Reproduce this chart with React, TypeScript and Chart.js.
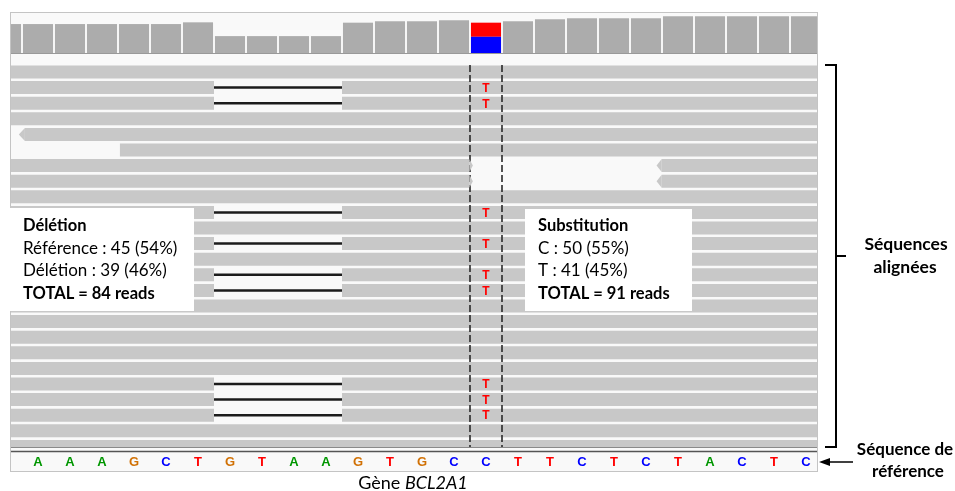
import React, { useEffect, useRef } from 'react';
import { Chart, registerables } from 'chart.js';

Chart.register(...registerables);

// ---------- data ----------
// genomic positions (base index; -1 is the partially visible base on the left)
const positions = [-1, 0, 1, 2, 3, 4, 5, 6, 7, 8, 9, 10, 11, 12, 13, 14, 15, 16, 17, 18, 19, 20, 21, 22, 23, 24];
// coverage (reads) matching the reference base; at the SNP this is the C count
const coverage = [87, 87, 87, 87, 87, 87, 92, 52, 52, 52, 52, 91, 95, 95, 98, 50, 95, 101, 104, 104, 104, 110, 110, 110, 110, 110];
const snpPosition = 14;
const snpAltCount = 41; // T reads
const snpAltBase = 'T';
// reference sequence (positions 0..24)
const refBases = ['A', 'A', 'A', 'G', 'C', 'T', 'G', 'T', 'A', 'A', 'G', 'T', 'G', 'C', 'C', 'T', 'T', 'C', 'T', 'C', 'T', 'A', 'C', 'T', 'C'];
// aligned reads
const readRows = [1, 2, 3, 4, 5, 6, 7, 8, 9, 10, 11, 12, 13, 14, 15, 16, 17, 18, 19, 20, 21, 22, 23, 24, 25];
const deletionRows = [2, 3, 10, 12, 14, 15, 21, 22, 23];
const snpReadRows = [2, 3, 10, 12, 14, 15, 21, 22, 23];
const deletionStart = 5.5;
const deletionEnd = 9.5;
const fullReadStart = -1.5;
const fullReadEnd = 25.5;
// reads that do not span the whole window: [row, start, end]
const partialReads: [number, number, number][] = [
  [5, -0.41, 25.5],
  [6, 2.56, 25.5],
  [7, -1.5, 13.48],
  [7, 19.49, 25.5],
  [8, -1.5, 13.48],
  [8, 19.49, 25.5],
];
// pointed read ends: [row, body end, tip]
const readTips: [number, number, number][] = [
  [5, -0.41, -0.6],
  [7, 13.48, 13.59],
  [8, 13.48, 13.59],
  [7, 19.49, 19.33],
  [8, 19.49, 19.33],
];
const deletionBox = ['Délétion', 'Référence : 45 (54%)', 'Délétion : 39 (46%)', 'TOTAL = 84 reads'];
const substitutionBox = ['Substitution', 'C : 50 (55%)', 'T : 41 (45%)', 'TOTAL = 91 reads'];

const baseColors: Record<string, string> = { A: '#009600', C: '#0000ff', G: '#d17105', T: '#ff0000' };

// ---------- helpers ----------
function buildReadSegments() {
  const pts: { x: number; y: number | null }[] = [];
  const push = (row: number, s: number, e: number) => {
    pts.push({ x: s, y: row }, { x: e, y: row }, { x: e, y: null });
  };
  const partialRowSet = new Set(partialReads.map((r) => r[0]));
  readRows.forEach((row) => {
    if (partialRowSet.has(row)) {
      partialReads.filter((r) => r[0] === row).forEach((r) => push(row, r[1], r[2]));
    } else if (deletionRows.includes(row)) {
      push(row, fullReadStart, deletionStart);
      push(row, deletionEnd, fullReadEnd);
    } else {
      push(row, fullReadStart, fullReadEnd);
    }
  });
  return pts;
}

function buildDeletionSegments() {
  const pts: { x: number; y: number | null }[] = [];
  deletionRows.forEach((row) => {
    pts.push({ x: deletionStart, y: row }, { x: deletionEnd, y: row }, { x: deletionEnd, y: null });
  });
  return pts;
}

const FONT = 'Lato, "Open Sans", sans-serif';

const igvPlugin = {
  id: 'igvDecor',
  beforeDraw(chart: any) {
    const { ctx, chartArea: a } = chart;
    ctx.save();
    ctx.fillStyle = '#ffffff';
    ctx.fillRect(0, 0, chart.width, chart.height);
    ctx.fillStyle = '#f9f9f9';
    ctx.fillRect(a.left, a.top, a.right - a.left, a.bottom - a.top);
    ctx.restore();
  },
  afterDatasetsDraw(chart: any) {
    const { ctx, chartArea: a } = chart;
    const xs = chart.scales.x;
    const yR = chart.scales.yReads;
    const yRef = chart.scales.yRef;
    ctx.save();

    // pointed read ends
    ctx.beginPath();
    ctx.rect(a.left, a.top, a.right - a.left, a.bottom - a.top);
    ctx.clip();
    ctx.fillStyle = '#c8c8c8';
    readTips.forEach(([row, body, tip]) => {
      const yc = yR.getPixelForValue(row);
      const xb = xs.getPixelForValue(body);
      const xt = xs.getPixelForValue(tip);
      ctx.beginPath();
      ctx.moveTo(xb, yc - 6.5);
      ctx.lineTo(xt, yc);
      ctx.lineTo(xb, yc + 6.5);
      ctx.closePath();
      ctx.fill();
    });

    // mismatched bases in reads
    ctx.fillStyle = baseColors[snpAltBase];
    ctx.font = 'bold 12px "Liberation Sans", Arial, sans-serif';
    ctx.textAlign = 'center';
    ctx.textBaseline = 'middle';
    snpReadRows.forEach((row) => {
      ctx.fillText(snpAltBase, xs.getPixelForValue(snpPosition), yR.getPixelForValue(row) + 1);
    });

    // reference sequence letters
    ctx.font = 'bold 13px "Liberation Sans", Arial, sans-serif';
    refBases.forEach((b, i) => {
      ctx.fillStyle = baseColors[b];
      ctx.fillText(b, xs.getPixelForValue(i), yRef.getPixelForValue(0.4) + 0.5);
    });
    ctx.restore();

    ctx.save();
    // panel border
    ctx.strokeStyle = '#c4c4c4';
    ctx.lineWidth = 1;
    ctx.strokeRect(a.left + 0.5, a.top + 0.5, a.right - a.left - 1, a.bottom - a.top - 1);

    // summary boxes
    ctx.fillStyle = '#ffffff';
    ctx.fillRect(a.left, 208, 184, 103);
    ctx.fillRect(525, 209, 167, 102);
    ctx.fillStyle = '#000000';
    ctx.textAlign = 'left';
    ctx.textBaseline = 'middle';
    const lineY = [226, 248.5, 271, 293.5];
    const boxFont = (i: number) => (i === 0 || i === 3 ? 'bold 16.5px ' : '17px ') + FONT;
    deletionBox.forEach((t, i) => {
      ctx.font = boxFont(i);
      ctx.fillText(t, 23, lineY[i]);
    });
    substitutionBox.forEach((t, i) => {
      ctx.font = boxFont(i);
      ctx.fillText(t, 538, lineY[i]);
    });

    // bracket for aligned reads
    const top = yR.getPixelForValue(0.55);
    const bottom = yR.getPixelForValue(25.04);
    const bx = a.right + 18;
    ctx.strokeStyle = '#000000';
    ctx.lineWidth = 2;
    ctx.beginPath();
    ctx.moveTo(bx - 11, top);
    ctx.lineTo(bx, top);
    ctx.lineTo(bx, bottom);
    ctx.lineTo(bx - 11, bottom);
    ctx.moveTo(bx, (top + bottom) / 2);
    ctx.lineTo(bx + 10, (top + bottom) / 2);
    ctx.stroke();

    // right labels
    ctx.textAlign = 'center';
    ctx.font = 'bold 17.5px ' + FONT;
    ctx.fillText('Séquences', 906, 244);
    ctx.fillText('alignées', 905, 267);
    ctx.font = 'bold 17px ' + FONT;
    ctx.fillText('Séquence de', 905, 450);
    ctx.fillText('référence', 908, 472);

    // arrow to the reference sequence
    const ay = yRef.getPixelForValue(0.4);
    ctx.lineWidth = 1.5;
    ctx.beginPath();
    ctx.moveTo(853, ay);
    ctx.lineTo(826, ay);
    ctx.stroke();
    ctx.beginPath();
    ctx.moveTo(819, ay);
    ctx.lineTo(830, ay - 4);
    ctx.lineTo(830, ay + 4);
    ctx.closePath();
    ctx.fill();

    // gene label
    ctx.textAlign = 'left';
    ctx.font = '18px ' + FONT;
    const w1 = ctx.measureText('Gène ').width;
    ctx.font = 'italic 18px ' + FONT;
    const w2 = ctx.measureText('BCL2A1').width;
    const gx = 413 - (w1 + w2) / 2;
    ctx.font = '18px ' + FONT;
    ctx.fillText('Gène ', gx, 483);
    ctx.font = 'italic 18px ' + FONT;
    ctx.fillText('BCL2A1', gx + w1, 483);
    ctx.restore();
  },
};

export default function App() {
  const ref = useRef<HTMLCanvasElement | null>(null);

  useEffect(() => {
    if (!ref.current) return;
    const chart = new Chart(ref.current, {
      type: 'bar',
      data: {
        datasets: [
          {
            type: 'bar',
            label: 'Couverture',
            data: positions.map((p, i) => ({ x: p, y: coverage[i] })),
            backgroundColor: positions.map((p) => (p === snpPosition ? baseColors.C : '#acacac')),
            xAxisID: 'x',
            yAxisID: 'yCov',
            stack: 'cov',
            barPercentage: 0.94,
            categoryPercentage: 1,
            borderWidth: 0,
            order: 10,
          } as any,
          {
            type: 'bar',
            label: 'T',
            data: [{ x: snpPosition, y: snpAltCount }],
            backgroundColor: baseColors.T,
            xAxisID: 'x',
            yAxisID: 'yCov',
            stack: 'cov',
            barPercentage: 0.94,
            categoryPercentage: 1,
            borderWidth: 0,
            order: 10,
          } as any,
          {
            type: 'line',
            label: 'baseline',
            data: [{ x: -1.5, y: 0.5 }, { x: 25.5, y: 0.5 }],
            xAxisID: 'x',
            yAxisID: 'yCov',
            borderColor: '#999999',
            borderWidth: 1.5,
            pointRadius: 0,
            order: 9,
          } as any,
          {
            type: 'line',
            label: 'Reads',
            data: buildReadSegments(),
            xAxisID: 'x',
            yAxisID: 'yReads',
            borderColor: '#c8c8c8',
            borderWidth: 13,
            borderCapStyle: 'butt',
            pointRadius: 0,
            spanGaps: false,
            tension: 0,
            clip: 0,
            order: 8,
          } as any,
          {
            type: 'line',
            label: 'Délétions',
            data: buildDeletionSegments(),
            xAxisID: 'x',
            yAxisID: 'yReads',
            borderColor: '#1c1c1c',
            borderWidth: 2.5,
            borderCapStyle: 'butt',
            pointRadius: 0,
            spanGaps: false,
            order: 6,
          } as any,
          {
            type: 'line',
            label: 'SNP gauche',
            data: [{ x: snpPosition - 0.5, y: 0.55 }, { x: snpPosition - 0.5, y: 25.04 }],
            xAxisID: 'x',
            yAxisID: 'yReads',
            borderColor: '#2a2a2a',
            borderWidth: 1.6,
            borderDash: [7, 3],
            pointRadius: 0,
            order: 2,
          } as any,
          {
            type: 'line',
            label: 'SNP droite',
            data: [{ x: snpPosition + 0.5, y: 0.55 }, { x: snpPosition + 0.5, y: 25.04 }],
            xAxisID: 'x',
            yAxisID: 'yReads',
            borderColor: '#2a2a2a',
            borderWidth: 1.6,
            borderDash: [7, 3],
            pointRadius: 0,
            order: 2,
          } as any,
          {
            type: 'line',
            label: 'sep1',
            data: [{ x: -1.5, y: 0.99 }, { x: 25.5, y: 0.99 }],
            xAxisID: 'x',
            yAxisID: 'yRef',
            borderColor: '#8a8a8a',
            borderWidth: 1.3,
            pointRadius: 0,
            order: 1,
          } as any,
          {
            type: 'line',
            label: 'sep2',
            data: [{ x: -1.5, y: 0.82 }, { x: 25.5, y: 0.82 }],
            xAxisID: 'x',
            yAxisID: 'yRef',
            borderColor: '#555555',
            borderWidth: 1.5,
            pointRadius: 0,
            order: 1,
          } as any,
        ],
      },
      options: {
        animation: false,
        responsive: false,
        maintainAspectRatio: false,
        devicePixelRatio: 1,
        events: [],
        layout: { padding: { left: 10, top: 12, right: 137, bottom: 19 } },
        plugins: {
          legend: { display: false },
          tooltip: { enabled: false },
          title: { display: false },
        },
        scales: {
          x: { type: 'linear', min: -0.875, max: 24.375, offset: false, display: false },
          yCov: {
            type: 'linear', position: 'left', stack: 'panel', stackWeight: 42, weight: 3,
            min: 0, max: 122, display: false,
          },
          yReads: {
            type: 'linear', position: 'left', stack: 'panel', stackWeight: 393, weight: 2,
            min: -0.154, max: 25.04, reverse: true, display: false,
          },
          yRef: {
            type: 'linear', position: 'left', stack: 'panel', stackWeight: 25, weight: 1,
            min: 0, max: 1, display: false,
          },
        } as any,
      },
      plugins: [igvPlugin],
    });
    return () => chart.destroy();
  }, []);

  return (
    <div style={{ position: 'absolute', left: 0, top: 0, width: 955, height: 491, background: '#ffffff' }}>
      <canvas ref={ref} width={955} height={491} style={{ display: 'block' }} />
    </div>
  );
}
